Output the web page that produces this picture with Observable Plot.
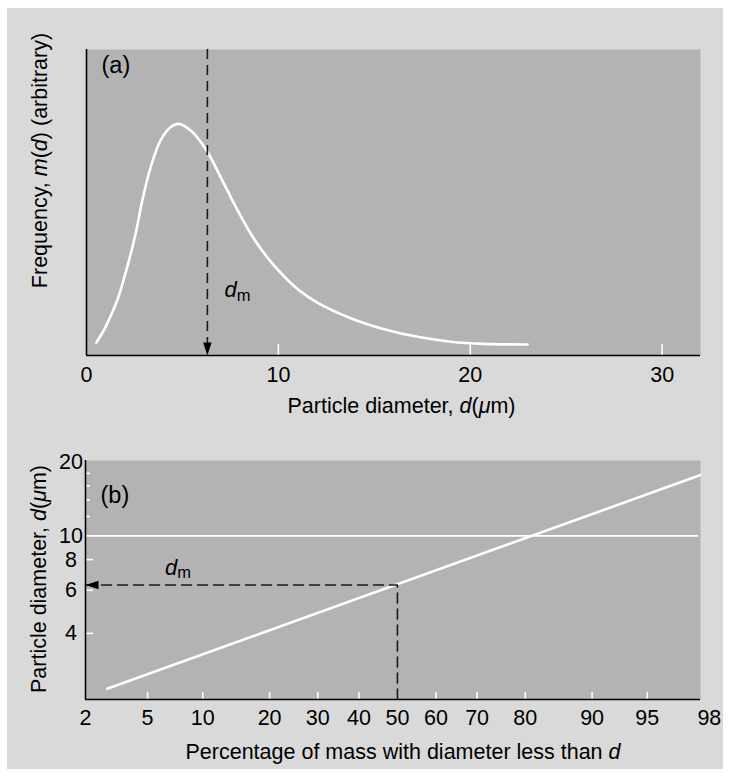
<!DOCTYPE html>
<html>
<head>
<meta charset="utf-8">
<script src="https://cdn.jsdelivr.net/npm/d3@7"></script>
<script src="https://cdn.jsdelivr.net/npm/@observablehq/plot@0.6"></script>
<style>
  html, body { margin: 0; padding: 0; background: #ffffff; }
  #page { position: relative; width: 731px; height: 777px; overflow: hidden; font-family: "Liberation Sans", Arial, sans-serif; }
  #box { position: absolute; left: 7px; top: 8px; width: 716px; height: 761px; background: #d9d9d9; }
  #pa { position: absolute; left: 0; top: 0; }
  #pb { position: absolute; left: 0; top: 400px; }
</style>
</head>
<body>
<div id="page"><div id="box"></div><div id="pa"></div><div id="pb"></div></div>
<script>
// ---------- DATA ----------
// Panel (a): frequency distribution m(d), arbitrary units
const diamA = [0.51, 0.99, 1.6, 2.12, 2.56, 2.91, 3.34, 3.86, 4.38, 4.81, 5.43, 6.26, 6.99, 7.86, 8.6, 9.43, 10.29, 11.1, 12.03, 13.77, 15.51, 17.25, 18.99, 20.73, 22.99];
const freqA = [4.2, 9.3, 18.0, 28.9, 39.8, 50.7, 61.5, 70.3, 74.6, 75.7, 73.5, 67.0, 58.3, 47.6, 39.4, 32.0, 25.9, 21.2, 17.3, 12.2, 8.6, 6.1, 4.5, 3.8, 3.6];
const xTicksA = [0, 10, 20, 30];
const xDomainA = [0, 32];
const yDomainA = [0, 100];
const dm = 6.3; // mass median diameter (µm)
const dmLabelA = {d: dm, f: 19};

// Panel (b): log-probability plot
const pctLine = [2.8, 97.7];      // percentage of mass with diameter less than d
const diaLine = [2.38, 17.7];     // particle diameter d (µm)
const xTickPctB = [2, 5, 10, 20, 30, 40, 50, 60, 70, 80, 90, 95, 98];
const xInnerTickPctB = [5, 10, 20, 30, 40, 60, 70, 80, 90, 95];
const xDomainPctB = [2, 97.7];
const yDomainB = [2.15, 20.3];
const yLabelTicksB = [4, 6, 8, 10, 20];
const yMajorTicksB = [4, 6, 8];
const yMinorTicksB = [12, 14, 16, 18];
const yGridB = [10];
const dmLabelB = {p: 6.3, d: 6.95};

const titles = {
  ya: "Frequency, m(d) (arbitrary)",
  xa: "Particle diameter, d(μm)",
  yb: "Particle diameter, d(μm)",
  xb: "Percentage of mass with diameter less than d",
  dm: "dm"
};

// ---------- helpers ----------
// inverse standard normal CDF (Acklam) for the probability axis
function probit(p) {
  const a = [-3.969683028665376e+01, 2.209460984245205e+02, -2.759285104469687e+02, 1.383577518672690e+02, -3.066479806614716e+01, 2.506628277459239e+00];
  const b = [-5.447609879822406e+01, 1.615858368580409e+02, -1.556989798598866e+02, 6.680131188771972e+01, -1.328068155288572e+01];
  const c = [-7.784894002430293e-03, -3.223964580411365e-01, -2.400758277161838e+00, -2.549732539343734e+00, 4.374664141464968e+00, 2.938163982698783e+00];
  const d = [7.784695709041462e-03, 3.224671290700398e-01, 2.445134137142996e+00, 3.754408661907416e+00];
  const pl = 0.02425, ph = 1 - pl;
  let q, r;
  if (p < pl) {
    q = Math.sqrt(-2 * Math.log(p));
    return (((((c[0]*q+c[1])*q+c[2])*q+c[3])*q+c[4])*q+c[5]) / ((((d[0]*q+d[1])*q+d[2])*q+d[3])*q+1);
  }
  if (p <= ph) {
    q = p - 0.5; r = q * q;
    return (((((a[0]*r+a[1])*r+a[2])*r+a[3])*r+a[4])*r+a[5])*q / (((((b[0]*r+b[1])*r+b[2])*r+b[3])*r+b[4])*r+1);
  }
  q = Math.sqrt(-2 * Math.log(1 - p));
  return -(((((c[0]*q+c[1])*q+c[2])*q+c[3])*q+c[4])*q+c[5]) / ((((d[0]*q+d[1])*q+d[2])*q+d[3])*q+1);
}
const z = (pct) => probit(pct / 100);

// filled triangular arrowhead shape for Plot.vector
const arrowHead = {
  draw(context, l) {
    context.moveTo(0, -l);
    context.lineTo(4.2, -l + 13);
    context.lineTo(-4.2, -l + 13);
    context.closePath();
  }
};

const rich = new Map([
  [titles.ya, 'Frequency, <tspan font-style="italic">m</tspan>(<tspan font-style="italic">d</tspan>) (arbitrary)'],
  [titles.xa, 'Particle diameter, <tspan font-style="italic">d</tspan>(<tspan font-style="italic">μ</tspan>m)'],
  [titles.xb, 'Percentage of mass with diameter less than <tspan font-style="italic">d</tspan>'],
  [titles.dm, '<tspan font-style="italic">d</tspan><tspan font-size="16.5" dy="3.5">m</tspan>']
]);
function enrich(svg) {
  svg.querySelectorAll("text").forEach(t => {
    const k = t.textContent;
    if (rich.has(k)) t.innerHTML = rich.get(k);
  });
}

const FONT = "Liberation Sans, Arial, sans-serif";
const FS = 21.5;
const DASH = "10,6";
const DARK = "#1a1a1a";
const PANEL = "#b3b3b3";

// ---------- Panel (a) ----------
const curveA = diamA.map((d, i) => ({d, f: freqA[i]}));
const hA = 306;
const plotA = Plot.plot({
  width: 731, height: 400,
  marginTop: 49, marginBottom: 45, marginLeft: 86, marginRight: 31,
  style: {background: "transparent", fontFamily: FONT, fontSize: FS + "px", overflow: "visible"},
  x: {domain: xDomainA, axis: null},
  y: {domain: yDomainA, axis: null},
  marks: [
    Plot.frame({fill: PANEL, stroke: "none"}),
    Plot.ruleX(xTicksA.filter(t => t > 0), {stroke: "white", strokeWidth: 1.6, insetTop: hA - 11}),
    Plot.line(curveA, {x: "d", y: "f", stroke: "white", strokeWidth: 2.6, curve: "catmull-rom"}),
    Plot.ruleX([dm], {stroke: DARK, strokeWidth: 1.6, strokeDasharray: DASH, insetBottom: 8}),
    Plot.vector([{x: dm, y: yDomainA[0]}], {x: "x", y: "y", rotate: 180, length: 13, anchor: "end", shape: arrowHead, fill: "#000", stroke: "none"}),
    Plot.ruleY([yDomainA[0]], {stroke: "#000", strokeWidth: 1.6}),
    Plot.ruleX([xDomainA[0]], {stroke: "#000", strokeWidth: 1.6}),
    Plot.text(xTicksA, {x: d => d, frameAnchor: "bottom", lineAnchor: "top", dy: 11.5, text: d => String(d), fontSize: FS, fill: "#000"}),
    Plot.text(["(a)"], {frameAnchor: "top-left", textAnchor: "start", lineAnchor: "bottom", dx: 15, dy: 23, fontSize: 23.5, fill: "#000"}),
    Plot.text([dmLabelA], {x: "d", y: "f", text: () => titles.dm, textAnchor: "start", lineAnchor: "bottom", dx: 17, fontSize: 22, fill: "#000"}),
    Plot.text([titles.xa], {frameAnchor: "bottom", textAnchor: "middle", lineAnchor: "bottom", dx: 8, dy: 57, fontSize: FS, fill: "#000"}),
    Plot.text([titles.ya], {frameAnchor: "left", textAnchor: "middle", rotate: -90, lineAnchor: "bottom", dx: -40, dy: -42, fontSize: FS, fill: "#000"})
  ]
});
enrich(plotA);
document.getElementById("pa").appendChild(plotA);

// ---------- Panel (b) ----------
const lineB = pctLine.map((p, i) => ({p, d: diaLine[i]}));
const hB = 239, wB = 615;
const plotB = Plot.plot({
  width: 731, height: 377,
  marginTop: 60, marginBottom: 78, marginLeft: 85, marginRight: 31,
  style: {background: "transparent", fontFamily: FONT, fontSize: FS + "px", overflow: "visible"},
  x: {domain: xDomainPctB.map(z), axis: null},
  y: {type: "log", domain: yDomainB, axis: null},
  marks: [
    Plot.frame({fill: PANEL, stroke: "none"}),
    Plot.ruleY(yGridB, {stroke: "white", strokeWidth: 1.6, insetRight: 2}),
    Plot.ruleX(xInnerTickPctB, {x: z, stroke: "white", strokeWidth: 1.6, insetTop: hB - 7}),
    Plot.ruleY(yMajorTicksB, {stroke: "white", strokeWidth: 1.6, insetRight: wB - 8}),
    Plot.ruleY(yMinorTicksB, {stroke: "white", strokeWidth: 1.6, insetRight: wB - 5}),
    Plot.line(lineB, {x: d => z(d.p), y: "d", stroke: "white", strokeWidth: 2.6}),
    Plot.line([{p: xDomainPctB[0], d: dm}, {p: 50, d: dm}, {p: 50, d: yDomainB[0]}],
      {x: d => z(d.p), y: "d", stroke: DARK, strokeWidth: 1.6, strokeDasharray: DASH}),
    Plot.vector([{p: xDomainPctB[0], d: dm}], {x: d => z(d.p), y: "d", rotate: 270, length: 13, anchor: "end", shape: arrowHead, fill: "#000", stroke: "none"}),
    Plot.ruleY([yDomainB[0]], {stroke: "#000", strokeWidth: 1.6}),
    Plot.ruleX([z(xDomainPctB[0])], {stroke: "#000", strokeWidth: 1.6}),
    Plot.text(xTickPctB, {x: z, frameAnchor: "bottom", lineAnchor: "top", dy: 10.6, text: d => String(d), fontSize: FS, fill: "#000"}),
    Plot.text(yLabelTicksB, {y: d => d, frameAnchor: "left", textAnchor: "middle", dx: -14.5, text: d => String(d), fontSize: FS, fill: "#000"}),
    Plot.text(["(b)"], {frameAnchor: "top-left", textAnchor: "start", lineAnchor: "bottom", dx: 15, dy: 42, fontSize: 23.5, fill: "#000"}),
    Plot.text([dmLabelB], {x: d => z(d.p), y: "d", text: () => titles.dm, textAnchor: "start", lineAnchor: "bottom", fontSize: 22, fill: "#000"}),
    Plot.text([titles.xb], {frameAnchor: "bottom", textAnchor: "middle", lineAnchor: "bottom", dx: 10, dy: 59, fontSize: FS, fill: "#000"}),
    Plot.text([titles.yb], {frameAnchor: "left", textAnchor: "middle", rotate: -90, lineAnchor: "bottom", dx: -40, dy: -1, fontSize: FS, fill: "#000"})
  ]
});
enrich(plotB);
document.getElementById("pb").appendChild(plotB);
</script>
</body>
</html>
